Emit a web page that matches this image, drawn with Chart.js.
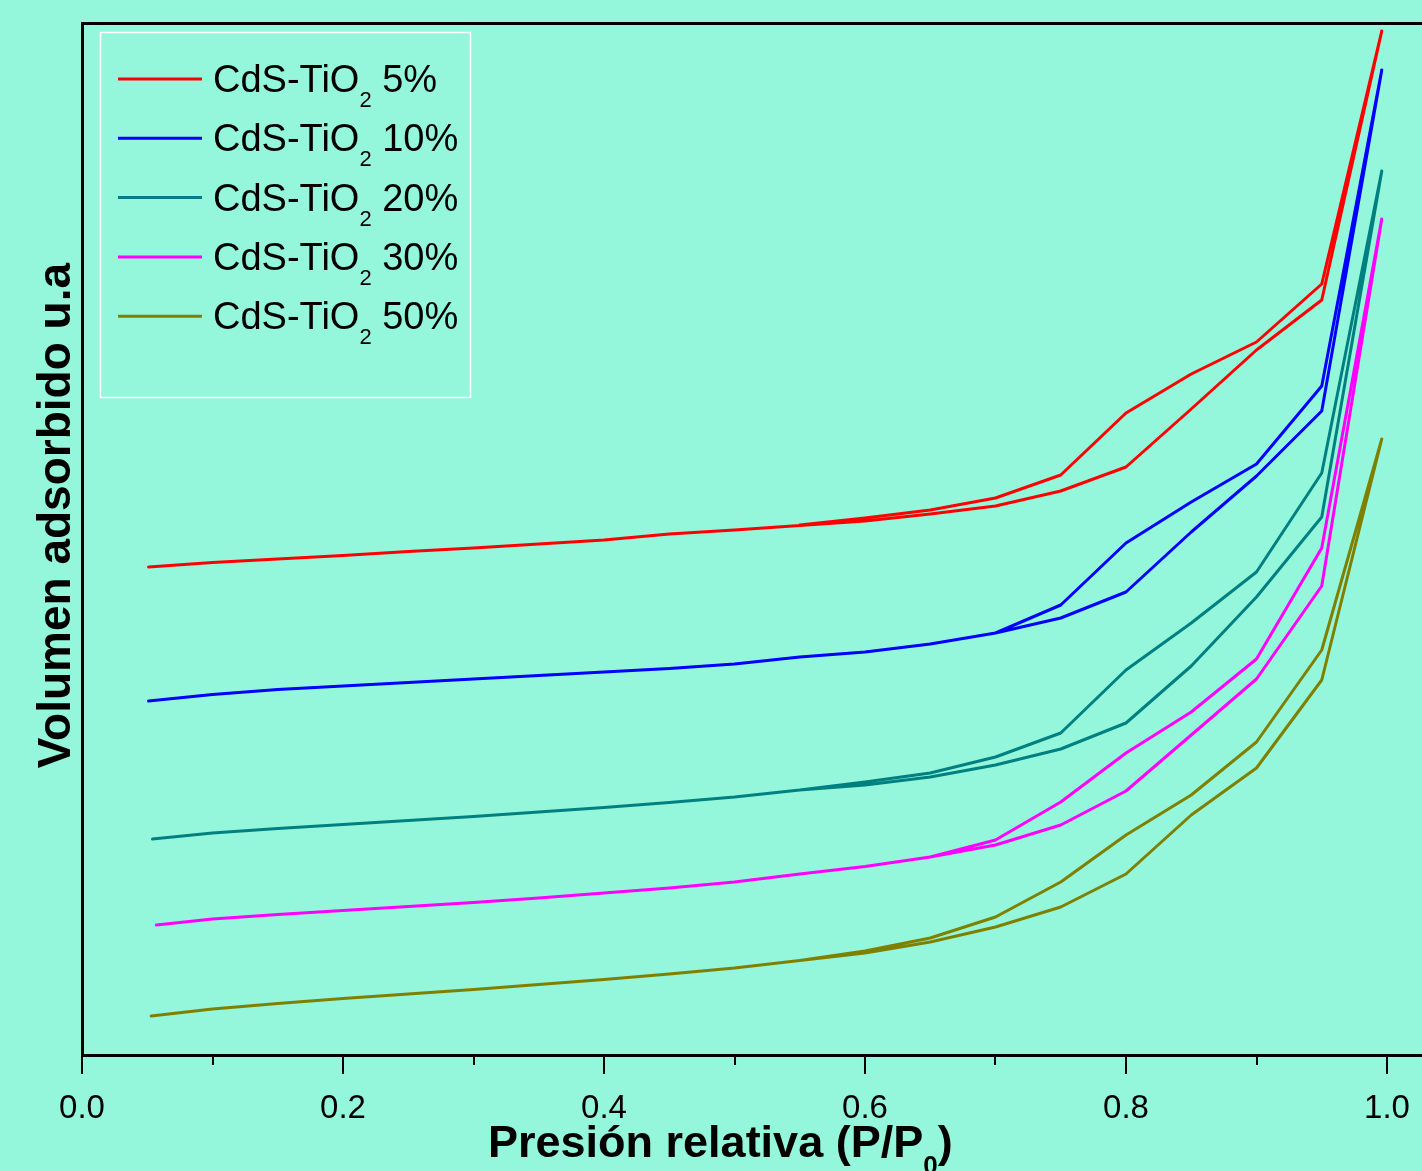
<!DOCTYPE html>
<html><head><meta charset="utf-8">
<script src="https://cdn.jsdelivr.net/npm/chart.js@4.4.1/dist/chart.umd.min.js"></script>
<style>html,body{margin:0;padding:0;background:#94f7db;}#wrap{width:1422px;height:1171px;}</style>
</head><body><div id="wrap"><canvas id="c" width="1422" height="1171"></canvas></div>
<script>
// ---- data ----
const seriesPct   = ['5%', '10%', '20%', '30%', '50%'];
const seriesColors = ['#ff0000', '#0000ff', '#008080', '#ff00ff', '#808000'];
const startP   = [0.051, 0.051, 0.054, 0.057, 0.053];
const pAdsRest = [0.10,0.15,0.20,0.25,0.30,0.35,0.40,0.45,0.50,0.55,0.60,0.65,0.70,0.75,0.80,0.85,0.90,0.95,0.996];
const pDes     = [0.996,0.95,0.90,0.85,0.80,0.75,0.70,0.65,0.60,0.55];

const ads5  = [48.8,49.25,49.6,49.95,50.35,50.7,51.1,51.5,52.1,52.5,52.95,53.4,54.1,54.9,56.4,58.8,64.6,70.5,75.5,102.4];
const des5  = [102.4,77.1,71.3,68.1,64.2,58.0,55.7,54.5,53.7,53.0];
const ads10 = [35.4,36.05,36.55,36.9,37.25,37.6,37.95,38.3,38.65,39.1,39.8,40.3,41.1,42.2,43.7,46.3,52.3,57.9,64.4,98.5];
const des10 = [98.5,66.9,59.1,55.3,51.2,45.0,42.2,41.1];
const ads20 = [21.6,22.2,22.65,23.05,23.45,23.85,24.3,24.75,25.25,25.8,26.5,27.0,27.8,29.0,30.6,33.2,38.9,45.8,53.8,88.4];
const des20 = [88.4,58.2,48.3,43.2,38.5,32.2,29.8,28.2,27.3,26.5];
const ads30 = [13.0,13.6,14.05,14.45,14.85,15.25,15.7,16.2,16.7,17.3,18.1,18.85,19.8,21.0,23.0,26.4,32.0,37.6,46.9,83.6];
const des30 = [83.6,50.7,39.6,34.3,30.2,25.3,21.5,19.8];
const ads50 = [3.9,4.6,5.15,5.65,6.1,6.55,7.05,7.55,8.1,8.7,9.45,10.2,11.3,12.8,14.8,18.1,24.0,28.7,37.5,61.6];
const des50 = [61.6,40.5,31.3,26.0,22.0,17.3,13.8,11.7,10.4,9.45];

const xMajorTicks = [0.0, 0.2, 0.4, 0.6, 0.8, 1.0];
const xMinorTicks = [0.1, 0.3, 0.5, 0.7, 0.9];
const xTitleMain = 'Presión relativa (P/P';
const xTitleSub = '0';
const xTitleEnd = ')';
const yTitle = 'Volumen adsorbido u.a';
const legendPrefix = 'CdS-TiO';
const legendSub = '2';

const adsList = [ads5, ads10, ads20, ads30, ads50];
const desList = [des5, des10, des20, des30, des50];

function buildPoints(i) {
  const px = [startP[i]].concat(pAdsRest);
  const pts = adsList[i].map((v, k) => ({x: px[k], y: v}));
  desList[i].forEach((v, k) => { if (k > 0) pts.push({x: pDes[k], y: v}); });
  return pts;
}

const datasets = seriesPct.map((p, i) => ({
  label: 'CdS-TiO2 ' + p,
  data: buildPoints(i),
  borderColor: seriesColors[i],
  backgroundColor: seriesColors[i],
  borderWidth: 3,
  pointRadius: 0,
  tension: 0,
  fill: false,
  borderJoinStyle: 'round',
  borderCapStyle: 'round'
}));

const FONT = "'Liberation Sans', Arial, sans-serif";

const decor = {
  id: 'decor',
  afterDraw(chart) {
    const ctx = chart.ctx;
    const xs = chart.scales.x;
    const bottom = chart.chartArea.bottom;
    ctx.save();
    // tick marks
    ctx.strokeStyle = '#000';
    ctx.lineWidth = 2;
    xMajorTicks.forEach(v => {
      const x = Math.round(xs.getPixelForValue(v));
      ctx.beginPath(); ctx.moveTo(x, bottom); ctx.lineTo(x, bottom + 19); ctx.stroke();
    });
    xMinorTicks.forEach(v => {
      const x = Math.round(xs.getPixelForValue(v));
      ctx.beginPath(); ctx.moveTo(x, bottom); ctx.lineTo(x, bottom + 10); ctx.stroke();
    });
    // x title
    ctx.fillStyle = '#000';
    ctx.textBaseline = 'alphabetic';
    ctx.textAlign = 'left';
    ctx.font = 'bold 45px ' + FONT;
    let tx = 488;
    const ty = 1157;
    ctx.fillText(xTitleMain, tx, ty);
    tx += ctx.measureText(xTitleMain).width;
    ctx.font = 'bold 26px ' + FONT;
    ctx.fillText(xTitleSub, tx, ty + 17);
    tx += ctx.measureText(xTitleSub).width;
    ctx.font = 'bold 45px ' + FONT;
    ctx.fillText(xTitleEnd, tx, ty);
    // y title
    ctx.save();
    ctx.translate(70, 263);
    ctx.rotate(-Math.PI / 2);
    ctx.textAlign = 'right';
    ctx.font = 'bold 46px ' + FONT;
    ctx.fillText(yTitle, 0, 0);
    ctx.restore();
    // legend
    ctx.strokeStyle = '#ffffff';
    ctx.lineWidth = 1.5;
    ctx.strokeRect(100.5, 32.5, 370, 365);
    chart.data.datasets.forEach((ds, i) => {
      const ly = 79 + i * 59.3;
      ctx.strokeStyle = ds.borderColor;
      ctx.lineWidth = 3;
      ctx.beginPath(); ctx.moveTo(118, ly); ctx.lineTo(202, ly); ctx.stroke();
      ctx.fillStyle = '#000';
      ctx.textAlign = 'left';
      let x = 213;
      const by = ly + 13;
      ctx.font = '38px ' + FONT;
      ctx.fillText(legendPrefix, x, by);
      x += ctx.measureText(legendPrefix).width;
      ctx.font = '22px ' + FONT;
      ctx.fillText(legendSub, x, by + 15);
      x += ctx.measureText(legendSub).width;
      ctx.font = '38px ' + FONT;
      ctx.fillText(' ' + seriesPct[i], x, by);
    });
    ctx.restore();
  }
};

new Chart(document.getElementById('c'), {
  type: 'line',
  data: { datasets },
  options: {
    responsive: false,
    animation: false,
    devicePixelRatio: 1,
    layout: { padding: { left: 82, top: 23, right: 0, bottom: 0 } },
    plugins: { legend: { display: false }, tooltip: { enabled: false } },
    scales: {
      x: {
        type: 'linear', position: 'bottom', min: 0, max: 1340 / 1305,
        grid: { display: false, drawTicks: false },
        border: { display: true, color: '#000', width: 3 },
        afterBuildTicks: s => { s.ticks = xMajorTicks.map(v => ({ value: v })); },
        ticks: {
          color: '#000', padding: 34,
          font: { family: FONT, size: 33 },
          callback: v => Number(v).toFixed(1),
          maxRotation: 0, autoSkip: false
        },
        afterFit: s => { s.height = 116; s.paddingLeft = 0; s.paddingRight = 0; }
      },
      x2: {
        type: 'linear', position: 'top', min: 0, max: 1340 / 1305,
        grid: { display: false, drawTicks: false },
        border: { display: true, color: '#000', width: 3 },
        ticks: { display: false },
        afterFit: s => { s.height = 0; s.paddingLeft = 0; s.paddingRight = 0; }
      },
      y: {
        type: 'linear', position: 'left', min: 0, max: 103.2,
        grid: { display: false, drawTicks: false },
        border: { display: true, color: '#000', width: 3 },
        ticks: { display: false },
        afterFit: s => { s.width = 0; s.paddingTop = 0; s.paddingBottom = 0; }
      }
    }
  },
  plugins: [decor]
});
</script>
</body></html>
